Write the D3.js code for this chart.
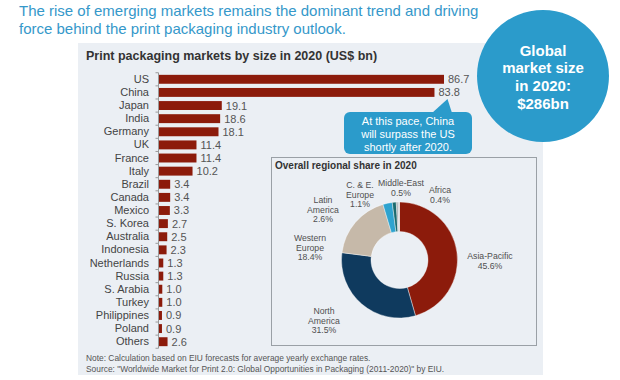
<!DOCTYPE html>
<html>
<head>
<meta charset="utf-8">
<script src="https://cdn.jsdelivr.net/npm/d3@7/dist/d3.min.js"></script>
<style>
  html, body { margin: 0; padding: 0; background: #ffffff; }
  svg { display: block; font-family: "Liberation Sans", Arial, sans-serif; }
</style>
</head>
<body>
<svg id="chart" width="620" height="380"></svg>
<script>
// ---------------- DATA ----------------
const countries = ["US","China","Japan","India","Germany","UK","France","Italy","Brazil","Canada",
  "Mexico","S. Korea","Australia","Indonesia","Netherlands","Russia","S. Arabia","Turkey",
  "Philippines","Poland","Others"];
const marketSize = [86.7,83.8,19.1,18.6,18.1,11.4,11.4,10.2,3.4,3.4,3.3,2.7,2.5,2.3,1.3,1.3,1.0,1.0,0.9,0.9,2.6];

const regions = ["Asia-Pacific","North\nAmerica","Western\nEurope","Latin\nAmerica","C. & E.\nEurope","Middle-East","Africa"];
const regionShare = [45.6,31.5,18.4,2.6,1.1,0.5,0.4];

const headline = ["The rise of emerging markets remains the dominant trend and driving",
                  "force behind the print packaging industry outlook."];
const barTitle = "Print packaging markets by size in 2020 (US$ bn)";
const pieTitle = "Overall regional share in 2020";
const calloutText = ["At this pace, China","will surpass the US","shortly after 2020."];
const bubbleText = ["Global","market size","in 2020:","$286bn"];
const footnotes = ["Note: Calculation based on EIU forecasts for average yearly exchange rates.",
  "Source: \"Worldwide Market for Print 2.0: Global Opportunities in Packaging (2011-2020)\" by EIU."];

// ---------------- LAYOUT / STYLE ----------------
const blue = "#2b9bcb";
const barColor = "#8c1b0b";
const regionColors = ["#8c1b0b","#0f3a5e","#c6b9a9","#2ea3cf","#1b6b6f","#9aa4a8","#c9cfd2"];
// label anchors relative to donut centre (first-line centre)
const pieLabelOffsets = [[90.5,-4],[-75.5,51],[-89.5,-22],[-76.5,-60],[-39.5,-75],[1.5,-77],[40.5,-70]];

const svg = d3.select("#chart");
svg.append("rect").attr("width",620).attr("height",380).attr("fill","#ffffff");

// headline
svg.append("g").selectAll("text").data(headline).join("text")
  .attr("x",19).attr("y",(d,i)=>16+i*17.5)
  .attr("font-size",15).attr("fill","#3598ca").text(d=>d);

// panel
svg.append("rect").attr("x",78).attr("y",43).attr("width",465).attr("height",332).attr("fill","#ebeff4");

svg.append("text").attr("x",86).attr("y",60).attr("font-size",12.5).attr("font-weight","bold")
  .attr("fill","#333").text(barTitle);

// ---------------- BAR CHART ----------------
const y = d3.scaleBand().domain(countries).range([72.74,348.26]).paddingInner(0.32).paddingOuter(0.16);
const x = d3.scaleLinear().domain([0,86.7]).range([159,444]);

const barG = svg.append("g");
barG.selectAll("rect").data(countries).join("rect")
  .attr("x",x(0)).attr("y",d=>y(d))
  .attr("width",(d,i)=>x(marketSize[i])-x(0))
  .attr("height",y.bandwidth())
  .attr("fill",barColor);

barG.selectAll("text.val").data(countries).join("text").attr("class","val")
  .attr("x",(d,i)=>x(marketSize[i])+4)
  .attr("y",d=>y(d)+y.bandwidth()/2)
  .attr("dy","0.36em")
  .attr("font-size",11).attr("fill","#555")
  .text((d,i)=>d3.format(".1f")(marketSize[i]));

const axisG = svg.append("g").attr("transform",`translate(${x(0)},0)`)
  .call(d3.axisLeft(y).tickSize(0).tickPadding(10));
axisG.select(".domain").remove();
axisG.selectAll("text").attr("font-size",11).attr("fill","#444").attr("font-family","Liberation Sans, Arial, sans-serif");

// axis line + boundary ticks
const boundaries = countries.map(d=>y(d)-y.step()*y.paddingInner()/2).concat([y(countries[countries.length-1])+y.bandwidth()+y.step()*y.paddingInner()/2]);
svg.append("line").attr("x1",x(0)-0.5).attr("x2",x(0)-0.5)
  .attr("y1",boundaries[0]).attr("y2",boundaries[boundaries.length-1])
  .attr("stroke","#9a9a9a").attr("stroke-width",1);
svg.append("g").selectAll("line").data(boundaries).join("line")
  .attr("x1",x(0)-3.5).attr("x2",x(0)-0.5).attr("y1",d=>d).attr("y2",d=>d)
  .attr("stroke","#9a9a9a").attr("stroke-width",1);

// ---------------- DONUT ----------------
const cx = 399.5, cy = 260;
svg.append("rect").attr("x",271.5).attr("y",157.5).attr("width",265).attr("height",188)
  .attr("fill","#ebeff4").attr("stroke","#9aa0a6").attr("stroke-width",1);
svg.append("text").attr("x",275).attr("y",168.5).attr("font-size",10).attr("font-weight","bold")
  .attr("fill","#333").text(pieTitle);

const pie = d3.pie().sort(null).value(d=>d)(regionShare);
const arc = d3.arc().innerRadius(28.5).outerRadius(58);
const pieG = svg.append("g").attr("transform",`translate(${cx},${cy})`);
pieG.selectAll("path").data(pie).join("path")
  .attr("d",arc).attr("fill",(d,i)=>regionColors[i])
  .attr("stroke","#ffffff").attr("stroke-width",0.4);

const lblG = pieG.append("g");
regions.forEach((r,i)=>{
  const lines = r.split("\n").concat([d3.format(".1f")(regionShare[i])+"%"]);
  const t = lblG.append("text")
    .attr("text-anchor","middle").attr("font-size",8.7).attr("fill","#505050");
  lines.forEach((ln,j)=>{
    t.append("tspan").attr("x",pieLabelOffsets[i][0])
      .attr("y",pieLabelOffsets[i][1]+j*9.6).attr("dy","0.35em").text(ln);
  });
});

// ---------------- CALLOUT ----------------
const callG = svg.append("g");
callG.append("path")
  .attr("d","M432,113 L447.5,99 L452,113 Z").attr("fill",blue);
callG.append("rect").attr("x",344).attr("y",112).attr("width",128).attr("height",42).attr("rx",6)
  .attr("fill",blue);
callG.selectAll("text").data(calloutText).join("text")
  .attr("x",408).attr("y",(d,i)=>125+i*12.8).attr("text-anchor","middle")
  .attr("font-size",11).attr("fill","#ffffff").text(d=>d);

// ---------------- BUBBLE ----------------
svg.append("circle").attr("cx",543).attr("cy",76).attr("r",66).attr("fill",blue);
svg.append("g").selectAll("text").data(bubbleText).join("text")
  .attr("x",543).attr("y",(d,i)=>55.5+i*17.7).attr("text-anchor","middle")
  .attr("font-size",15).attr("font-weight","bold").attr("fill","#ffffff").text(d=>d);

// ---------------- FOOTNOTES ----------------
svg.append("g").selectAll("text").data(footnotes).join("text")
  .attr("x",86).attr("y",(d,i)=>360.5+i*11)
  .attr("font-size",8.4).attr("fill","#555").text(d=>d);
</script>
</body>
</html>
